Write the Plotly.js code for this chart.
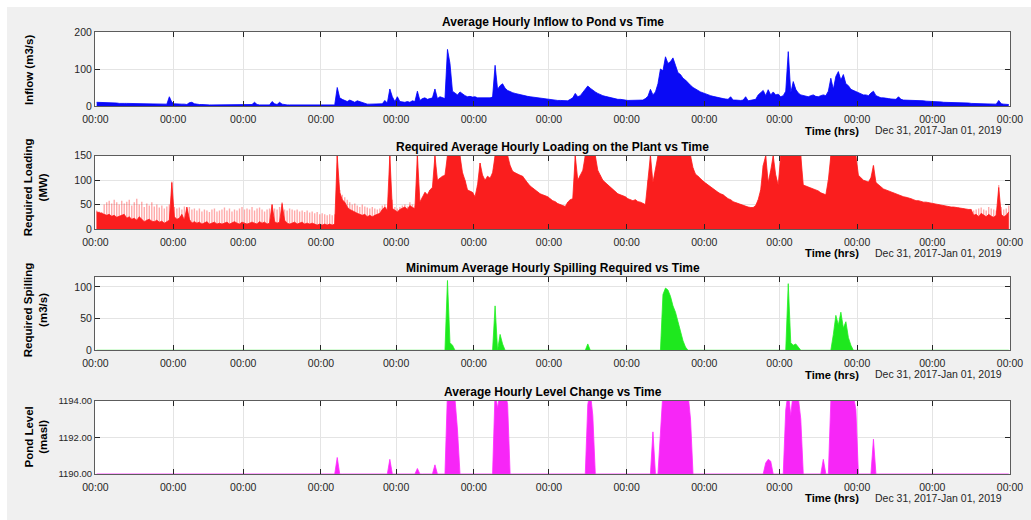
<!DOCTYPE html>
<html>
<head>
<meta charset="utf-8">
<script src="https://cdn.plot.ly/plotly-3.0.1.min.js"></script>
<style>
  html, body { margin: 0; padding: 0; background: #ffffff; }
  #chart { position: absolute; left: 7px; top: 7px; width: 1024px; height: 513px; }
</style>
</head>
<body>
<div id="chart"></div>
<script>
// Daily values for 2018 (index 0 = Jan 1, index 364 = Dec 31)

// Average hourly inflow to the pond (m3/s), daily peak
const inflow = [
  10,10,9,9,9,8,8,8,8,7,
  8,7,7,7,7,7,6,7,6,6,
  6,6,6,5,5,5,5,5,5,25,
  10,6,5,4,5,5,4,9,10,6,
  4,4,4,3,3,3,3,3,3,3,
  3,3,3,3,3,3,3,3,4,3,
  3,3,4,10,4,3,3,3,4,3,
  12,6,4,10,5,3,3,3,3,3,
  3,3,3,3,3,3,3,3,3,3,
  3,3,3,3,3,3,50,22,18,15,
  12,16,12,10,14,12,8,6,5,5,
  5,5,4,5,6,15,8,46,25,12,
  25,12,10,10,12,10,14,12,40,15,
  20,22,18,20,22,46,20,25,22,20,
  153,115,40,35,30,38,32,28,25,26,
  24,25,22,22,20,22,20,22,24,110,
  45,55,60,48,42,38,36,34,32,30,
  30,28,26,25,24,22,22,20,20,18,
  18,17,16,16,15,15,14,15,14,18,
  22,34,25,28,36,45,54,48,42,38,
  34,30,28,26,24,22,20,20,18,18,
  16,16,15,15,14,15,14,14,16,20,
  26,45,30,38,60,100,95,133,115,120,
  130,110,90,85,75,70,62,56,50,45,
  42,38,35,32,30,28,26,24,22,20,
  20,19,18,25,16,16,15,15,16,25,
  14,15,16,18,30,35,42,28,44,30,
  38,30,32,25,28,40,147,35,66,45,
  35,30,28,26,25,28,30,26,25,28,
  30,28,40,75,45,80,93,70,85,60,
  55,45,42,38,35,32,30,30,28,35,
  40,28,25,22,22,20,20,19,18,18,
  25,18,16,16,15,15,15,14,14,14,
  14,13,13,12,12,12,11,11,10,10,
  10,10,9,9,9,8,8,8,8,7,
  7,7,7,6,6,6,6,6,5,5,
  15,6,5,4,4
];

// Required average hourly loading on the plant (MW), daily peak
const loadPeak = [
  38,36,35,50,55,58,52,60,55,50,
  58,52,56,60,48,55,62,50,56,45,
  52,48,55,46,50,44,48,42,46,50,
  97,45,42,44,40,46,42,45,40,42,
  38,42,36,40,38,35,40,42,36,38,
  40,44,38,42,36,40,38,42,45,40,
  42,40,45,38,42,44,40,36,40,42,
  50,42,40,45,55,40,38,42,40,38,
  40,36,38,35,38,34,36,32,35,30,
  32,30,28,30,28,30,150,80,70,65,
  60,55,50,52,48,45,50,46,44,42,
  45,42,40,42,48,50,45,150,60,45,
  42,45,48,50,46,55,50,48,150,60,
  65,75,70,80,85,150,100,105,108,110,
  150,150,150,150,150,150,115,100,80,78,
  75,66,90,135,110,100,108,104,115,150,
  150,150,150,150,150,130,118,115,112,110,
  108,100,94,88,84,80,76,72,70,68,
  66,62,58,56,52,50,48,46,55,60,
  62,150,100,110,120,150,150,150,150,150,
  120,110,100,95,90,85,80,76,72,70,
  68,66,62,60,58,60,56,55,52,50,
  100,150,95,120,150,150,150,150,150,150,
  150,150,150,150,150,150,150,150,125,112,
  108,102,98,94,90,86,82,78,75,72,
  70,66,62,60,56,54,52,50,48,46,
  45,44,44,48,60,80,130,150,95,120,
  150,110,90,150,150,150,150,150,150,150,
  150,150,90,88,86,84,82,80,78,74,
  72,70,100,150,150,150,150,150,150,150,
  150,150,150,150,110,104,100,98,96,105,
  130,95,90,85,82,80,78,75,74,72,
  70,68,66,65,64,62,60,58,58,56,
  55,55,54,52,52,50,50,48,48,46,
  46,45,45,44,44,42,42,40,40,40,
  38,40,42,44,40,38,45,42,40,38,
  90,45,40,42,48
];

// Sustained (base) loading where it sits below the daily peak: Jan 1 - May 10
const loadBaseEarly = [
  35,34,32,30,28,30,26,28,24,26,
  28,30,22,25,20,22,18,25,20,15,
  18,20,16,15,18,14,16,12,15,18,
  95,25,20,22,30,18,45,20,12,15,
  12,14,10,12,15,10,12,14,10,12,
  10,12,14,10,12,15,12,10,14,12,
  10,12,14,12,10,15,12,14,10,12,
  50,15,12,14,52,18,12,10,12,14,
  10,12,14,10,12,10,12,10,8,10,
  8,10,8,10,8,10,150,75,60,55,
  45,40,38,35,32,30,28,30,25,28,
  25,28,30,32,40,45,38,150,42,38,
  35,40,42,45,40,48,44,42,150,55
];
// ... and Dec 17 - Dec 31
const loadBaseLate = [28,30,25,32,28,25,30,26,24,28,85,30,25,28,35];

// Minimum average hourly spilling required (m3/s): start day of each spill and its daily values
const spillStart = ['2018-05-21', '2018-06-09', '2018-07-16', '2018-08-15', '2018-10-04', '2018-10-22'];
const spillFlow = [
  [110, 12, 8],
  [70, 0, 25, 10],
  [10],
  [88, 98, 95, 85, 70, 60, 45, 30, 15, 5],
  [105, 12, 8, 10, 5],
  [25, 55, 40, 60, 35, 45, 20, 8]
];

// Pond level (masl): resting level and the days it rises above it
const pondRest = 1190.0;
const pondStart = ['2018-04-07', '2018-04-28', '2018-05-09', '2018-05-16', '2018-05-21', '2018-06-09',
                   '2018-07-16', '2018-08-11', '2018-08-14', '2018-09-25', '2018-10-03', '2018-10-18',
                   '2018-10-21', '2018-11-07'];
const pondLevel = [
  [1190.9],
  [1190.8],
  [1190.3],
  [1190.5],
  [1194.5, 1194.5, 1194.5, 1194.1, 1192.4],
  [1194.5, 1193.6, 1194.5, 1194.5, 1194.5, 1193.8],
  [1193.8, 1194.5, 1193.2],
  [1192.3],
  [1192.5, 1194.5, 1194.5, 1194.5, 1194.5, 1194.5, 1194.5, 1194.5, 1194.5, 1194.5, 1194.5, 1194.4, 1193.0],
  [1190.6, 1190.8, 1190.7],
  [1193.5, 1194.5, 1193.2, 1194.5, 1194.5, 1194.2, 1193.0],
  [1190.8],
  [1194.0, 1194.5, 1194.5, 1194.5, 1194.5, 1194.5, 1194.5, 1194.5, 1194.5, 1194.3, 1193.5],
  [1191.9]
];

// Axis ticks: first of every month
const monthTicks = ['2018-01-01','2018-02-01','2018-03-01','2018-04-01','2018-05-01','2018-06-01',
                    '2018-07-01','2018-08-01','2018-09-01','2018-10-01','2018-11-01','2018-12-01','2019-01-01'];
const monthTickText = monthTicks.map(() => '00:00');

// ---- build the daily time base ----
const DAY = 86400000;
const yearStart = Date.UTC(2018, 0, 1);
const nDays = inflow.length;
function dayStamp(i) {
  return new Date(yearStart + i * DAY + DAY / 2).toISOString().slice(0, 19).replace('T', ' ');
}
function dayIndex(dateStr) {
  const p = dateStr.split('-').map(Number);
  return Math.round((Date.UTC(p[0], p[1] - 1, p[2]) - yearStart) / DAY);
}
const days = inflow.map((_, i) => dayStamp(i));

// sustained loading: base values early and late, peak values in between
const loadSolid = loadPeak.map((v, i) => {
  if (i < loadBaseEarly.length) return loadBaseEarly[i];
  const late = i - (nDays - loadBaseLate.length);
  if (late >= 0) return loadBaseLate[late];
  return v;
});

// spill series: zero outside the spill events
const spill = inflow.map(() => 0);
spillStart.forEach((d, k) => {
  const s = dayIndex(d);
  spillFlow[k].forEach((v, j) => { spill[s + j] = v; });
});

// pond level series: resting level outside the listed rises
const level = inflow.map(() => pondRest);
pondStart.forEach((d, k) => {
  const s = dayIndex(d);
  pondLevel[k].forEach((v, j) => { level[s + j] = v; });
});

// ---- styling ----
const FONT = 'Liberation Sans, Arial, Helvetica, sans-serif';
const AXC = '#262626';

function xAxis(anchor) {
  return {
    type: 'date', anchor: anchor,
    range: ['2017-12-31 20:00', '2019-01-01 00:00'],
    tickmode: 'array', tickvals: monthTicks, ticktext: monthTickText,
    ticks: 'inside', ticklen: 5, tickwidth: 1, tickcolor: AXC,
    ticklabelstandoff: 3,
    showline: true, linecolor: '#5c5c5c', linewidth: 1, mirror: 'ticks',
    showgrid: true, gridcolor: '#e4e4e4', gridwidth: 1, zeroline: false,
    tickfont: { family: FONT, size: 10.5, color: AXC },
    fixedrange: true
  };
}
function yAxis(anchor, domain, range, tickvals, fmt, fontSize) {
  return {
    anchor: anchor, domain: domain, range: range,
    tickmode: 'array', tickvals: tickvals, tickformat: fmt || '',
    ticks: 'inside', ticklen: 5, tickwidth: 1, tickcolor: AXC,
    showline: true, linecolor: '#5c5c5c', linewidth: 1, mirror: 'ticks',
    showgrid: true, gridcolor: '#e4e4e4', gridwidth: 1, zeroline: false,
    tickfont: { family: FONT, size: fontSize || 10.5, color: AXC },
    fixedrange: true
  };
}

const traces = [
  {
    type: 'scatter', mode: 'lines', x: days, y: inflow, xaxis: 'x', yaxis: 'y',
    fill: 'tozeroy', fillcolor: '#0a0af5', line: { color: '#0000ff', width: 0.8 },
    hoverinfo: 'skip', showlegend: false
  },
  {
    type: 'bar', x: days, y: loadPeak, xaxis: 'x2', yaxis: 'y2', width: DAY * 0.55,
    marker: { color: 'rgba(255,30,30,0.38)', line: { width: 0 } },
    hoverinfo: 'skip', showlegend: false
  },
  {
    type: 'scatter', mode: 'lines', x: days, y: loadSolid, xaxis: 'x2', yaxis: 'y2',
    fill: 'tozeroy', fillcolor: '#fa1e1e', line: { color: '#ff1a1a', width: 0.8 },
    hoverinfo: 'skip', showlegend: false
  },
  {
    type: 'scatter', mode: 'lines', x: days, y: spill, xaxis: 'x3', yaxis: 'y3',
    fill: 'tozeroy', fillcolor: '#1ee81e', line: { color: '#22f022', width: 0.8 },
    hoverinfo: 'skip', showlegend: false
  },
  {
    type: 'scatter', mode: 'lines', x: days, y: level, xaxis: 'x4', yaxis: 'y4',
    fill: 'tozeroy', fillcolor: '#f726f7', line: { color: '#ff2aff', width: 0.8 },
    hoverinfo: 'skip', showlegend: false
  }
];

// text positions in paper units of the plotting area
function ann(text, x, y, size, opts) {
  return Object.assign({
    text: text, xref: 'paper', yref: 'paper', x: x, y: y,
    xanchor: 'center', yanchor: 'middle', showarrow: false,
    font: { family: FONT, size: size, color: '#000000' }
  }, opts || {});
}

const annotations = [
  ann('<b>Average Hourly Inflow to Pond vs Time</b>', 0.5, 1.0226, 12),
  ann('<b>Required Average Hourly Loading on the Plant vs Time</b>', 0.5, 0.7405, 12),
  ann('<b>Minimum Average Hourly Spilling Required vs Time</b>', 0.5, 0.4661, 12),
  ann('<b>Average Hourly Level Change vs Time</b>', 0.5, 0.1862, 12),

  ann('<b>Inflow (m3/s)</b>', -0.0721, 0.914, 11.5, { textangle: -90 }),
  ann('<b>Required Loading<br>(MW)</b>', -0.065, 0.6477, 11.5, { textangle: -90 }),
  ann('<b>Required Spilling<br>(m3/s)</b>', -0.065, 0.3717, 11.5, { textangle: -90 }),
  ann('<b>Pond Level<br>(masl)</b>', -0.065, 0.0837, 11.5, { textangle: -90 })
];
[0.7771, 0.4989, 0.2244, -0.0554].forEach(y => {
  annotations.push(ann('<b>Time (hrs)</b>', 0.8055, y, 11.2));
  annotations.push(ann('Dec 31, 2017-Jan 01, 2019', 0.9221, y + 0.002, 10.5, { font: { family: FONT, size: 10.5, color: AXC } }));
});

const layout = {
  width: 1024, height: 513,
  margin: { l: 88, r: 21, t: 25, b: 46, pad: 0 },
  paper_bgcolor: '#f0f0f0', plot_bgcolor: '#ffffff',
  font: { family: FONT, size: 10.5, color: AXC },
  barmode: 'overlay', showlegend: false,
  xaxis: xAxis('y'),
  xaxis2: xAxis('y2'),
  xaxis3: xAxis('y3'),
  xaxis4: xAxis('y4'),
  yaxis: yAxis('x', [0.8326, 1.0], [0, 200], [0, 100, 200]),
  yaxis2: yAxis('x2', [0.5543, 0.7201], [0, 150], [0, 50, 100, 150]),
  yaxis3: yAxis('x3', [0.2799, 0.4450], [0, 115], [0, 50, 100]),
  yaxis4: yAxis('x4', [0.0, 0.1658], [1190, 1194], [1190, 1192, 1194], '.2f', 9.5),
  annotations: annotations
};

Plotly.newPlot('chart', traces, layout, { displayModeBar: false, staticPlot: true });
</script>
</body>
</html>
